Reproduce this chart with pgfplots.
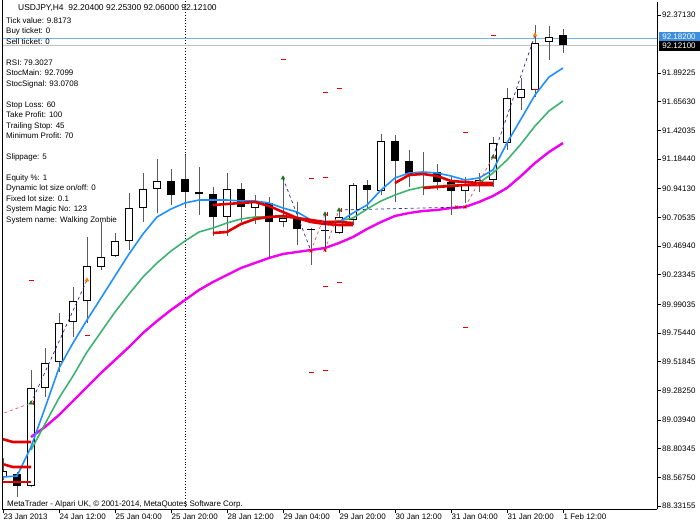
\documentclass[border=0pt]{standalone}
\usepackage{fontspec}
\setmainfont{Liberation Sans}
\usepackage{pgfplots}
\usepackage{pgfplotstable}
\pgfplotsset{compat=1.18}

\definecolor{mablue}{RGB}{30,144,255}
\definecolor{magreen}{RGB}{60,179,113}
\definecolor{mamag}{RGB}{240,0,240}
\definecolor{mared}{RGB}{225,0,0}
\definecolor{askline}{RGB}{110,180,240}
\definecolor{askbox}{RGB}{60,142,224}
\definecolor{bidline}{RGB}{192,192,192}
\definecolor{wick}{RGB}{90,90,90}
\definecolor{tradeblue}{RGB}{40,40,150}
\definecolor{tradered}{RGB}{230,80,80}
\definecolor{arrowgreen}{RGB}{20,120,40}

\newcommand\smallfont{\fontsize{8}{9.6}\selectfont}

% USDJPY H4 candles, x = bar number from 23 Jan 20:00
\pgfplotstableread{
x o h l c
0 88.5699 88.7263 88.5453 88.6193
2 88.4959 89.4503 88.4877 89.3022
3 89.3022 89.6314 89.2282 89.5079
4 89.5162 89.9193 89.4339 89.8371
5 89.8453 90.1333 89.7219 90.0181
6 90.0181 90.5447 89.8371 90.3061
7 90.2978 90.6681 90.2731 90.3801
8 90.3883 90.5776 90.3801 90.5118
9 90.5118 90.9067 90.4377 90.7833
10 90.7833 91.0713 90.6681 90.9396
11 90.9396 91.1864 90.7421 91.0054
16 90.7092 91.0713 90.5529 90.9396
18 90.7833 90.8902 90.6516 90.8326
20 90.6681 91.0301 90.6269 90.7010
24 90.5776 90.7668 90.5693 90.7092
25 90.6845 90.9890 90.6434 90.9725
27 90.9232 91.3921 90.8902 91.3346
30 91.0630 91.2440 90.8902 91.0795
33 90.9232 91.0383 90.8244 90.9725
34 90.9725 91.0713 90.9149 91.0137
35 91.0137 91.3675 90.9561 91.3181
36 91.3181 91.7706 91.2605 91.6884
37 91.6884 91.8529 91.5896 91.7624
38 91.7542 92.2890 91.6966 92.1409
39 92.1491 92.2808 92.0010 92.1903
}\candlesup

\pgfplotstableread{
x o h l c
1 88.5946 88.6111 88.4054 88.4959
12 91.0054 91.1042 90.8080 90.8902
13 91.0219 91.2194 90.7833 90.9149
14 90.9149 91.1206 90.7257 90.8985
15 90.8985 90.9561 90.5529 90.7092
17 90.9396 90.9890 90.6681 90.7915
19 90.8244 90.8738 90.3801 90.6681
21 90.6928 90.8326 90.4788 90.6105
22 90.6105 90.6187 90.3143 90.6023
23 90.6023 90.7257 90.4212 90.5940
26 90.9725 91.0137 90.7833 90.9314
28 91.3346 91.3839 90.8326 91.1700
29 91.1700 91.2605 90.9561 91.0630
31 91.0795 91.1453 90.9314 90.9972
32 90.9972 91.0383 90.7257 90.9232
40 92.2040 92.2530 92.0600 92.1210
}\candlesdown

\begin{document}
\begin{tikzpicture}
\useasboundingbox (0,0) rectangle (700bp,525bp);
\begin{axis}[
    at={(2bp,16bp)}, anchor=south west,
    scale only axis, width=655bp, height=507bp,
    xmin=-0.0714, xmax=46.714, ymin=88.3066, ymax=92.4783,
    axis x line=bottom, axis y line=right,
    axis line style={-, black, line width=0.8bp},
    tick align=outside, major tick length=4bp,
    tick style={black, line width=0.8bp},
    xtick={0,4,...,40},
    xticklabels={23 Jan 2013, 24 Jan 12:00, 25 Jan 04:00, 25 Jan 20:00, 28 Jan 12:00,
        29 Jan 04:00, 29 Jan 20:00, 30 Jan 12:00, 31 Jan 04:00, 31 Jan 20:00, 1 Feb 12:00},
    xticklabel style={anchor=north west, inner sep=0pt, font=\smallfont, xshift=0.5bp, yshift=-1bp},
    ytick={88.33155,88.56750,88.80345,89.03940,89.28250,89.51845,89.75440,89.99035,
        90.23345,90.46940,90.70535,90.94130,91.18440,91.42035,91.65630,91.89225,92.37130},
    yticklabels={88.33155,88.56750,88.80345,89.03940,89.28250,89.51845,89.75440,89.99035,
        90.23345,90.46940,90.70535,90.94130,91.18440,91.42035,91.65630,91.89225,92.37130},
    yticklabel style={anchor=west, inner sep=0pt, font=\smallfont, xshift=1bp},
]
% period separator and price lines
\addplot[black, dotted, line width=0.8bp, forget plot] coordinates {(13,88.3) (13,92.5)};
\addplot[askline, line width=1bp, forget plot] coordinates {(-1,92.182) (47,92.182)};
\addplot[bidline, line width=1bp, forget plot] coordinates {(-1,92.121) (47,92.121)};

% wicks
\addplot[draw=none, forget plot, error bars/.cd, y dir=plus, y explicit, error mark=none,
    error bar style={draw=wick, line width=1bp}]
    table[x=x, y=l, y error plus expr=\thisrow{h}-\thisrow{l}] {\candlesup};
\addplot[draw=none, forget plot, error bars/.cd, y dir=plus, y explicit, error mark=none,
    error bar style={draw=wick, line width=1bp}]
    table[x=x, y=l, y error plus expr=\thisrow{h}-\thisrow{l}] {\candlesdown};
% bodies
\addplot[draw=none, forget plot, error bars/.cd, y dir=plus, y explicit, error mark=none,
    error bar style={draw=black, line width=8.5bp}]
    table[x=x, y=c, y error plus expr=\thisrow{o}-\thisrow{c}] {\candlesdown};
\addplot[draw=none, forget plot, error bars/.cd, y dir=plus, y explicit, error mark=none,
    error bar style={draw=black, line width=8.5bp}]
    table[x=x, y=o, y error plus expr=\thisrow{c}-\thisrow{o}] {\candlesup};
\addplot[draw=none, forget plot, error bars/.cd, y dir=plus, y explicit, error mark=none,
    error bar style={draw=white, line width=6.5bp, shorten <=1bp, shorten >=1bp}]
    table[x=x, y=o, y error plus expr=\thisrow{c}-\thisrow{o}] {\candlesup};

% moving averages
\addplot[mamag, line width=2.4bp] coordinates {
(2,88.8991)(3,88.9813)(4,89.0801)(5,89.1953)(6,89.3105)(7,89.4257)(8,89.5326)(9,89.6396)
(10,89.7548)(11,89.8535)(12,89.9440)(13,90.0263)(14,90.1086)(15,90.1744)(16,90.2320)
(17,90.2896)(18,90.3307)(19,90.3719)(20,90.4048)(21,90.4212)(22,90.4377)(23,90.4542)
(24,90.4953)(25,90.5447)(26,90.6105)(27,90.6681)(28,90.7175)(29,90.7421)(30,90.7586)
(31,90.7668)(32,90.7833)(33,90.7915)(34,90.8326)(35,90.8820)(36,90.9478)(37,91.0466)
(38,91.1535)(39,91.2440)(40,91.3181)};
\addplot[magreen, line width=1.6bp] coordinates {
(2,88.7921)(3,89.0060)(4,89.2200)(5,89.4010)(6,89.5984)(7,89.7630)(8,89.9276)(9,90.0757)
(10,90.2155)(11,90.3307)(12,90.4295)(13,90.5118)(14,90.5858)(15,90.6187)(16,90.6599)
(17,90.6928)(18,90.7092)(19,90.7092)(20,90.7092)(21,90.7010)(22,90.6845)(23,90.6681)
(24,90.6763)(25,90.7010)(26,90.7750)(27,90.8409)(28,90.8902)(29,90.9314)(30,90.9561)
(31,90.9643)(32,90.9725)(33,90.9725)(34,90.9890)(35,91.0713)(36,91.1782)(37,91.3099)
(38,91.4580)(39,91.5814)(40,91.6637)};
\addplot[mablue, line width=1.6bp] coordinates {
(-0.3,88.5699)(0,88.5699)(1,88.5782)(2,88.8168)(3,89.1377)(4,89.4668)(5,89.6725)(6,89.8617)
(7,90.0428)(8,90.2238)(9,90.4048)(10,90.5693)(11,90.7092)(12,90.7750)(13,90.8244)
(14,90.8491)(15,90.8491)(16,90.8491)(17,90.8409)(18,90.8409)(19,90.8244)(20,90.7833)
(21,90.7504)(22,90.6845)(23,90.6516)(24,90.6681)(25,90.7421)(26,90.8080)(27,90.9314)
(28,91.0301)(29,91.0713)(30,91.0795)(31,91.0713)(32,91.0466)(33,91.0137)(34,91.0301)
(35,91.0959)(36,91.3181)(37,91.5156)(38,91.7130)(39,91.8611)(40,91.9352)};

% red level segments
\addplot[mared, line width=2.6bp] coordinates {(-0.3,88.8908)(0.7,88.8579)(2,88.8579)};
\addplot[mared, line width=2.6bp] coordinates {(-0.3,88.6851)(0.7,88.6522)(2,88.6522)};
\addplot[mared, line width=2.6bp] coordinates {(-0.3,88.5288)(2,88.5288)};
\addplot[mared, line width=2.6bp] coordinates {
(15,90.8080)(16,90.8162)(17,90.8244)(18,90.8326)(19,90.7997)(20,90.7504)(21,90.7010)
(22,90.6845)(23,90.6681)(24,90.6681)(25,90.6599)};
\addplot[mared, line width=2.6bp] coordinates {
(15,90.5776)(16,90.5858)(17,90.6516)(18,90.6928)(19,90.7092)(20,90.7175)(21,90.7010)
(22,90.6681)(23,90.6516)(24,90.6434)(25,90.6434)};
\addplot[mared, line width=2.6bp] coordinates {
(28,90.9890)(29,91.0548)(30,91.0630)(31,91.0466)(32,91.0054)(33,90.9972)(34,90.9890)(35,90.9890)};
\addplot[mared, line width=2.6bp] coordinates {
(30,90.9478)(31,90.9561)(32,90.9643)(33,90.9725)(34,90.9725)(35,90.9725)};

% short red level marks
\addplot[only marks, mark=-, mark size=2.5bp, mark options={mared, line width=1bp}] coordinates {
(35,92.1985)(20,92.0092)(23,91.7295)(24,91.7624)(33,91.4004)(22,91.0219)(23,91.0383)
(2,90.1826)(6,89.7301)(23,90.1333)(24,90.1662)(33,89.8041)(22,89.4257)(23,89.4503)(38,91.7542)};

% trade lines
\addplot[tradered, dashed, line width=0.7bp] coordinates {(-0.3,89.0801)(2,89.1788)};
\addplot[tradeblue, dashed, line width=0.7bp] coordinates {(2,89.1788)(6,90.1909)};
\addplot[tradeblue, dashed, line width=0.7bp] coordinates {(20,91.0301)(22,90.4295)};
\addplot[tradered, dashed, line width=0.7bp] coordinates {(22,90.4295)(23,90.7339)};
\addplot[tradeblue, line width=0.7bp] coordinates {(23,90.7339)(23,90.4377)};
\addplot[tradered, dashed, line width=0.7bp] coordinates {(23,90.4377)(24,90.7668)};
\addplot[tradeblue, dashed, line width=0.7bp] coordinates {(24,90.7668)(33,90.7915)};
\addplot[tradered, dashed, line width=0.7bp] coordinates {(33,90.7915)(35,91.2029)};
\addplot[tradeblue, dashed, line width=0.7bp] coordinates {(35,91.2029)(38,92.2067)};

% trade markers
\addplot[only marks, mark=triangle*, mark size=2.2bp, mark options={arrowgreen}] coordinates {
(2,89.1788)(20,91.0301)(23,90.7339)(24,90.7668)(35,91.2029)};
\addplot[only marks, mark=|, mark size=2bp, mark options={mared, line width=0.8bp}] coordinates {
(2.2,89.1788)(23.2,90.7339)(24.2,90.7668)(35.2,91.2029)};
\addplot[only marks, mark=triangle*, mark size=2.2bp, mark options={orange}] coordinates {
(6,90.1909)(38,92.2067)};
\addplot[only marks, mark=x, mark size=2bp, mark options={mared, line width=0.8bp}] coordinates {
(22,90.4295)(23,90.4377)(32.4,90.7915)(33,90.7915)};
\end{axis}

% chart frame on the left
\draw[black, line width=0.8bp] (2bp,16bp) -- (2bp,525bp);

% price boxes on the right
\node[fill=askbox, text=white, font=\smallfont, inner sep=0pt, minimum width=41bp, minimum height=10bp]
    at (679bp,488bp) {92.18200};
\node[fill=black, text=white, font=\smallfont, inner sep=0pt, minimum width=41bp, minimum height=10bp]
    at (679bp,479bp) {92.12100};

% header and expert info
\node[anchor=base west, inner sep=0pt, font=\fontsize{8.5}{10}\selectfont] at (18bp,514bp)
    {USDJPY,H4\ \ 92.20400 92.25300 92.06000 92.12100};
\begin{scope}[every node/.style={anchor=base west, inner sep=0pt, font=\smallfont}]
\node at (6bp,501.5bp) {Tick value: 9.8173};
\node at (6bp,491bp) {Buy ticket: 0};
\node at (6bp,480.5bp) {Sell ticket: 0};
\node at (6bp,459.5bp) {RSI: 79.3027};
\node at (6bp,449bp) {StocMain: 92.7099};
\node at (6bp,438.5bp) {StocSignal: 93.0708};
\node at (6bp,417.7bp) {Stop Loss: 60};
\node at (6bp,407.2bp) {Take Profit: 100};
\node at (6bp,396.8bp) {Trailing Stop: 45};
\node at (6bp,386.3bp) {Minimum Profit: 70};
\node at (6bp,365.4bp) {Slippage: 5};
\node at (6bp,344.5bp) {Equity \%: 1};
\node at (6bp,334bp) {Dynamic lot size on/off: 0};
\node at (6bp,323.5bp) {Fixed lot size: 0.1};
\node at (6bp,313bp) {System Magic No: 123};
\node at (6bp,302.5bp) {System name: Walking Zombie};
\node at (7bp,19bp) {MetaTrader - Alpari UK, © 2001-2014, MetaQuotes Software Corp.};
\end{scope}
\end{tikzpicture}
\end{document}
